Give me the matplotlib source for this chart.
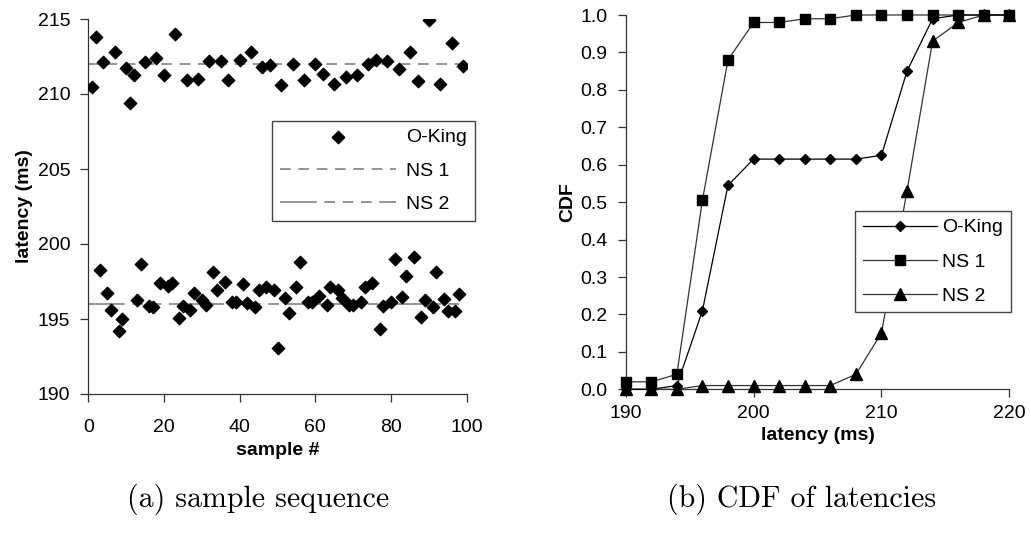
import matplotlib
matplotlib.use("Agg")
import matplotlib.pyplot as plt
from matplotlib.ticker import FormatStrFormatter

plt.rcParams['font.family'] = ['Liberation Sans', 'DejaVu Sans']

# (a) sample sequence: O-King samples, two clusters
high_x = [1, 2, 4, 7, 10, 11, 12, 15, 18, 20, 23, 26, 29, 32, 35, 37, 40, 43, 46, 48,
          51, 54, 57, 60, 62, 65, 68, 71, 74, 76, 79, 82, 85, 87, 90, 93, 96, 99]
high_y = [210.5, 213.8, 212.15, 212.8, 211.75, 209.4, 211.27, 212.15, 212.4, 211.3,
          214.0, 210.93, 210.98, 212.2, 212.2, 210.93, 212.27, 212.82, 211.78, 211.93,
          210.6, 211.98, 210.93, 212.0, 211.33, 210.7, 211.15, 211.27, 212.0, 212.3,
          212.2, 211.7, 212.8, 210.9, 214.93, 210.64, 213.38, 211.9]
low_x = [3, 5, 6, 8, 9, 13, 14, 16, 17, 19, 21, 22, 24, 25, 27, 28, 30, 31, 33, 34,
         36, 38, 39, 41, 42, 44, 45, 47, 49, 50, 52, 53, 55, 56, 58, 59, 61, 63, 64, 66,
         67, 69, 70, 72, 73, 75, 77, 78, 80, 81, 83, 84, 86, 88, 89, 91, 92, 94, 95, 97, 98]
low_y = [198.27, 196.76, 195.6, 194.22, 194.98, 196.27, 198.64, 195.89, 195.78, 197.38,
         197.2, 197.42, 195.04, 195.89, 195.6, 196.71, 196.27, 195.93, 198.11, 196.93,
         197.49, 196.11, 196.16, 197.33, 196.04, 195.78, 196.93, 197.16, 196.93, 193.04,
         196.38, 195.38, 197.16, 198.78, 196.11, 196.11, 196.56, 195.93, 197.16, 196.93,
         196.38, 195.93, 195.93, 196.16, 197.11, 197.38, 194.33, 195.89, 196.11, 199.0,
         196.49, 197.89, 199.16, 195.16, 196.27, 195.82, 198.16, 196.31, 195.53, 195.53, 196.67]
ns1_level = 212
ns2_level = 196

# (b) CDF of latencies
cdf_x = [190, 192, 194, 196, 198, 200, 202, 204, 206, 208, 210, 212, 214, 216, 218, 220]
cdf_oking = [0.0, 0.0, 0.01, 0.21, 0.545, 0.615, 0.615, 0.615, 0.615, 0.615, 0.625,
             0.85, 0.99, 1.0, 1.0, 1.0]
cdf_ns1 = [0.02, 0.02, 0.04, 0.505, 0.88, 0.98, 0.98, 0.99, 0.99, 1.0, 1.0, 1.0, 1.0,
           1.0, 1.0, 1.0]
cdf_ns2 = [0.0, 0.0, 0.0, 0.01, 0.01, 0.01, 0.01, 0.01, 0.01, 0.04, 0.15, 0.53, 0.93,
           0.98, 1.0, 1.0]

W, H = 1031, 538
FS = 14
fig = plt.figure(figsize=(W / 100, H / 100), dpi=100)

def px_axes(x0, y0, x1, y1):
    return fig.add_axes([x0 / W, 1 - y1 / H, (x1 - x0) / W, (y1 - y0) / H])

def style(ax, xpad):
    for s in ['top', 'right']:
        ax.spines[s].set_visible(False)
    for s in ['left', 'bottom']:
        ax.spines[s].set_linewidth(0.9)
        ax.spines[s].set_color('#333333')
    ax.tick_params(axis='both', direction='out', length=6, width=0.9,
                   color='#333333', labelsize=FS)
    ax.tick_params(axis='x', pad=xpad)
    ax.tick_params(axis='y', pad=7)

# left panel
ax1 = px_axes(88.3, 19, 466.7, 394)
ax1.scatter(high_x + low_x, high_y + low_y, marker='D', s=40, color='black',
            zorder=3, label='O-King')
ax1.axhline(ns1_level, color='#777777', lw=1.1, ls=(0, (7, 5)), label='NS 1')
ax1.axhline(ns2_level, color='#777777', lw=1.1,
            ls=(0, (24, 5, 7, 5, 7, 5, 7, 5)), label='NS 2')
ax1.set_xlim(0, 100)
ax1.set_ylim(190, 215)
ax1.set_xticks(range(0, 101, 20))
ax1.set_yticks(range(190, 216, 5))
style(ax1, 12)
ax1.set_xlabel('sample #', fontsize=FS, fontweight='bold', labelpad=4)
ax1.set_ylabel('latency (ms)', fontsize=FS, fontweight='bold', labelpad=3)
leg1 = ax1.legend(loc='upper left', bbox_to_anchor=(272 / W, 1 - 121 / H),
                  bbox_transform=fig.transFigure, fontsize=FS, handlelength=6.0,
                  handletextpad=0.5, labelspacing=0.8, borderpad=0.4,
                  borderaxespad=0, fancybox=False, framealpha=1, scatterpoints=1)
leg1.get_frame().set_edgecolor('#444444')
leg1.get_frame().set_linewidth(1.0)

# right panel
ax2 = px_axes(625.7, 15, 1009.3, 389.3)
ax2.plot(cdf_x, cdf_oking, color='black', lw=0.9, marker='D', ms=5.3,
         mfc='black', mec='black', label='O-King', zorder=4)
ax2.plot(cdf_x, cdf_ns1, color='#333333', lw=0.9, marker='s', ms=7.5,
         mfc='black', mec='black', label='NS 1', zorder=3)
ax2.plot(cdf_x, cdf_ns2, color='#333333', lw=0.9, marker='^', ms=8,
         mfc='black', mec='black', label='NS 2', zorder=3)
ax2.set_xlim(190, 220)
ax2.set_ylim(0, 1.0)
ax2.set_xticks([190, 200, 210, 220])
ax2.set_yticks([i / 10 for i in range(11)])
ax2.yaxis.set_major_formatter(FormatStrFormatter('%.1f'))
style(ax2, 5)
for ln in ax2.lines:
    ln.set_clip_on(False)
ax2.set_xlabel('latency (ms)', fontsize=FS, fontweight='bold', labelpad=4)
ax2.set_ylabel('CDF', fontsize=FS, fontweight='bold', labelpad=3)
leg2 = ax2.legend(loc='upper left', bbox_to_anchor=(855 / W, 1 - 211 / H),
                  bbox_transform=fig.transFigure, fontsize=FS, handlelength=3.8,
                  handletextpad=0.3, labelspacing=0.85, borderpad=0.4,
                  borderaxespad=0, fancybox=False, framealpha=1)
leg2.get_frame().set_edgecolor('#444444')
leg2.get_frame().set_linewidth(1.0)

# captions
fig.text(258 / W, 1 - 499 / H, '(a) sample sequence', family=['cmr10', 'DejaVu Serif'],
         fontsize=21.5, ha='center', va='center')
fig.text(802 / W, 1 - 499 / H, '(b) CDF of latencies', family=['cmr10', 'DejaVu Serif'],
         fontsize=21.5, ha='center', va='center')

fig.savefig('out.png', dpi=100)
